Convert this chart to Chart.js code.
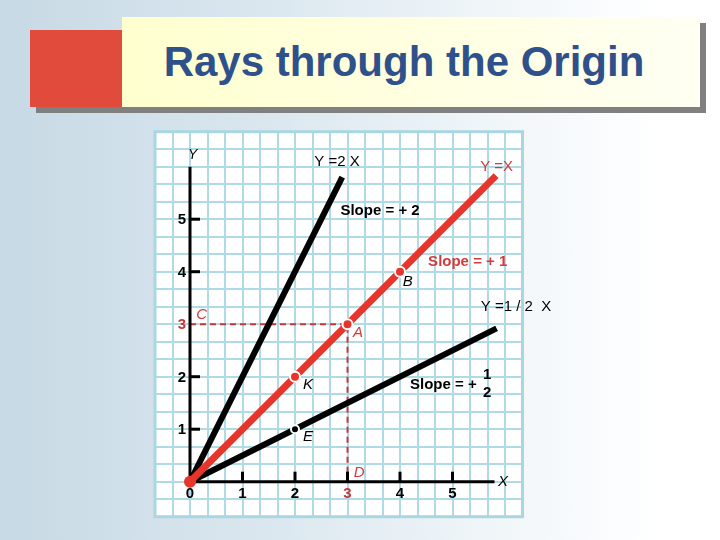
<!DOCTYPE html>
<html><head><meta charset="utf-8">
<script src="https://cdn.jsdelivr.net/npm/chart.js@4"></script>
<style>
html,body{margin:0;padding:0;width:720px;height:540px;overflow:hidden;}
body{position:relative;background:linear-gradient(90deg,#c7d9e5 0%,#d9e6ee 35%,#eef4f8 65%,#ffffff 92%);font-family:"Liberation Sans",Arial,sans-serif;}
#redsq{position:absolute;left:30px;top:30px;width:92px;height:77px;background:#e14b3b;box-shadow:6px 6px 0 #7f7f7f;}
#titlebox{position:absolute;left:122px;top:17px;width:578px;height:90px;background:linear-gradient(90deg,#ffffcf,#fffff3);box-shadow:6px 6px 0 #808080;}
#title{position:absolute;left:104px;top:17px;width:600px;height:90px;line-height:90px;text-align:center;font-weight:bold;font-size:42px;color:#2f518b;white-space:nowrap;}
#c{position:absolute;left:0;top:0;}
</style></head>
<body>
<div id="redsq"></div>
<div id="titlebox"></div>
<div id="title">Rays through the Origin</div>
<canvas id="c" width="720" height="540"></canvas>
<script>
// ---- data ----
const xTickValues = [0, 1, 2, 3, 4, 5];
const yTickValues = [1, 2, 3, 4, 5];
const highlightTick = 3;
const xAxisX = [0, 5.8], xAxisY = [0, 0];
const yAxisX = [0, 0], yAxisY = [0, 6];
const rayDoubleX = [0, 2.9], rayDoubleY = [0, 5.8];     // Y = 2X
const rayEqualX = [0, 5.83], rayEqualY = [0, 5.83];     // Y = X
const rayHalfX = [0, 5.84], rayHalfY = [0, 2.92];       // Y = 1/2 X
const dashX = [0, 3, 3], dashY = [3, 3, 0];
const redPointX = [3, 4, 2], redPointY = [3, 4, 2];     // A, B, K
const blackPointX = [2], blackPointY = [1];             // E
const originX = [0], originY = [0];

const zip = (xs, ys) => xs.map((x, i) => ({x: x, y: ys[i]}));
const gridTicks = (a, b) => { const t = []; for (let k = a; k <= b; k++) t.push({value: k / 3}); return t; };

const RED = '#e8352b', DRED = '#c43a3c', TRED = '#d23a3c';
const FN = '"Liberation Sans", Arial, sans-serif';

const labels = [
  {t:'Y =2 X', x:2.80, y:6.10, c:'#000', f:'15px '+FN},
  {t:'Y =X', x:5.84, y:6.00, c:TRED, f:'15px '+FN},
  {t:'Slope = + 2', x:3.62, y:5.16, c:'#000', f:'bold 15px '+FN},
  {t:'Slope = + 1', x:5.29, y:4.19, c:TRED, f:'bold 15px '+FN},
  {t:'Y =1 / 2  X', x:6.21, y:3.33, c:'#000', f:'15px '+FN},
  {t:'Slope = +', x:4.19, y:1.84, c:'#000', f:'bold 15px '+FN, a:'left'},
  {t:'1', x:5.66, y:2.04, c:'#000', f:'bold 15px '+FN},
  {t:'2', x:5.66, y:1.69, c:'#000', f:'bold 15px '+FN},
  {t:'B', x:4.15, y:3.81, c:'#000', f:'italic 15px '+FN},
  {t:'C', x:0.22, y:3.18, c:TRED, f:'italic 15px '+FN},
  {t:'A', x:3.20, y:2.83, c:TRED, f:'italic 15px '+FN},
  {t:'K', x:2.25, y:1.84, c:'#000', f:'italic 15px '+FN},
  {t:'E', x:2.25, y:0.86, c:'#000', f:'italic 15px '+FN},
  {t:'D', x:3.22, y:0.17, c:TRED, f:'italic 15px '+FN},
  {t:'X', x:5.96, y:0.00, c:'#000', f:'italic 15px '+FN},
  {t:'Y', x:0.05, y:6.22, c:'#000', f:'italic 14px '+FN}
];

const paperPlugin = {
  id: 'paper',
  beforeDraw(chart) {
    const {ctx, chartArea: a} = chart;
    ctx.save(); ctx.fillStyle = '#ffffff';
    ctx.fillRect(a.left, a.top, a.right - a.left, a.bottom - a.top);
    ctx.restore();
  },
  beforeDatasetsDraw(chart) {
    const {ctx, chartArea: a} = chart;
    ctx.save(); ctx.strokeStyle = '#a9d7e1'; ctx.lineWidth = 3;
    ctx.strokeRect(a.left, a.top, a.right - a.left, a.bottom - a.top);
    ctx.restore();
  },
  afterDatasetsDraw(chart) {
    const {ctx, scales: {x, y}} = chart;
    const x0 = x.getPixelForValue(0), y0 = y.getPixelForValue(0);
    ctx.save();
    ctx.strokeStyle = '#000'; ctx.lineWidth = 3;
    xTickValues.forEach(v => {
      if (v === 0) return;
      const px = x.getPixelForValue(v);
      ctx.beginPath(); ctx.moveTo(px, y0); ctx.lineTo(px, y0 - 10); ctx.stroke();
    });
    yTickValues.forEach(v => {
      if (v === highlightTick) return;
      const py = y.getPixelForValue(v);
      ctx.beginPath(); ctx.moveTo(x0, py); ctx.lineTo(x0 + 10, py); ctx.stroke();
    });
    ctx.font = 'bold 15px ' + FN;
    ctx.textAlign = 'center'; ctx.textBaseline = 'middle';
    xTickValues.forEach(v => {
      ctx.fillStyle = v === highlightTick ? DRED : '#000';
      ctx.fillText(String(v), x.getPixelForValue(v), y0 + 12);
    });
    ctx.textAlign = 'right';
    yTickValues.forEach(v => {
      ctx.fillStyle = v === highlightTick ? DRED : '#000';
      ctx.fillText(String(v), x0 - 4, y.getPixelForValue(v) + 1);
    });
    labels.forEach(l => {
      ctx.font = l.f; ctx.fillStyle = l.c; ctx.textAlign = l.a || 'center'; ctx.textBaseline = 'middle';
      ctx.fillText(l.t, x.getPixelForValue(l.x), y.getPixelForValue(l.y));
    });
    ctx.restore();
  }
};

const lineDs = (data, color, width, order, extra) => Object.assign({
  type: 'line', data: data, borderColor: color, backgroundColor: color, borderWidth: width,
  pointRadius: 0, fill: false, tension: 0, order: order, borderCapStyle: 'butt'
}, extra || {});

new Chart(document.getElementById('c'), {
  type: 'scatter',
  data: {
    datasets: [
      lineDs(zip(dashX, dashY), DRED, 2, 20, {borderDash: [6, 4]}),
      lineDs(zip(xAxisX, xAxisY), '#000', 3, 19),
      lineDs(zip(yAxisX, yAxisY), '#000', 3, 18),
      lineDs(zip(rayDoubleX, rayDoubleY), '#000', 6, 17),
      lineDs(zip(rayHalfX, rayHalfY), '#000', 6, 16),
      lineDs(zip(rayEqualX, rayEqualY), RED, 7, 15),
      {data: zip(redPointX, redPointY), pointRadius: 5, backgroundColor: RED, borderColor: '#fff', borderWidth: 2, order: 3},
      {data: zip(blackPointX, blackPointY), pointRadius: 4, backgroundColor: '#000', borderColor: '#fff', borderWidth: 2, order: 2},
      {data: zip(originX, originY), pointRadius: 6, backgroundColor: RED, borderColor: RED, borderWidth: 0, order: 1}
    ]
  },
  options: {
    responsive: false, devicePixelRatio: 1, animation: false,
    layout: {padding: {left: 155, right: 197.5, top: 131.7, bottom: 23.3}},
    plugins: {legend: {display: false}, tooltip: {enabled: false}},
    scales: {
      x: {type: 'linear', min: -2/3, max: 19/3, afterBuildTicks: s => { s.ticks = gridTicks(-2, 19); },
          ticks: {display: false}, grid: {color: '#b0dae4', lineWidth: 2, drawTicks: false}, border: {display: false}},
      y: {type: 'linear', min: -2/3, max: 20/3, afterBuildTicks: s => { s.ticks = gridTicks(-2, 20); },
          ticks: {display: false}, grid: {color: '#b0dae4', lineWidth: 2, drawTicks: false}, border: {display: false}}
    }
  },
  plugins: [paperPlugin]
});
</script>
</body></html>
